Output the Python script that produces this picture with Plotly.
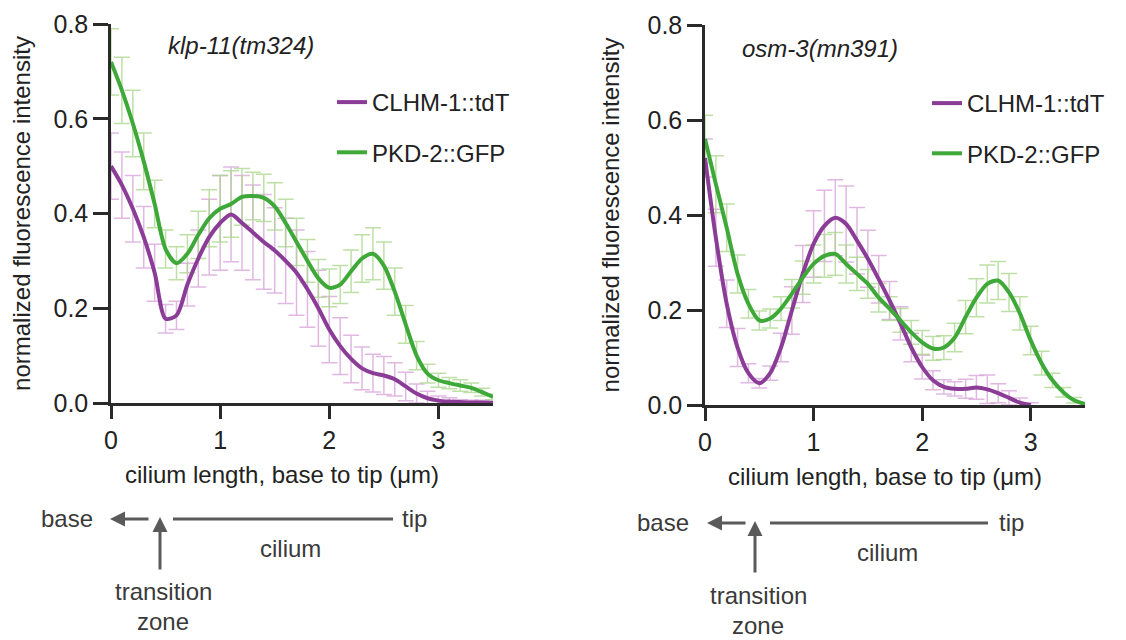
import plotly.graph_objects as go

W, H = 1126, 640

# ---------------- data ----------------
x_pos = [0.0, 0.1, 0.2, 0.3, 0.4, 0.5, 0.6, 0.7, 0.8, 0.9,
         1.0, 1.1, 1.2, 1.3, 1.4, 1.5, 1.6, 1.7, 1.8, 1.9,
         2.0, 2.1, 2.2, 2.3, 2.4, 2.5, 2.6, 2.7, 2.8, 2.9,
         3.0, 3.1, 3.2, 3.3, 3.4, 3.5]

# klp-11(tm324)
klp_pkd2 = [0.72, 0.66, 0.59, 0.51, 0.42, 0.325, 0.295, 0.315, 0.355, 0.39,
            0.41, 0.42, 0.435, 0.437, 0.433, 0.415, 0.38, 0.34, 0.30, 0.263,
            0.243, 0.25, 0.278, 0.305, 0.315, 0.29, 0.235, 0.166, 0.10, 0.062,
            0.048, 0.042, 0.037, 0.032, 0.023, 0.013]
klp_pkd2_err = [0.07, 0.07, 0.07, 0.06, 0.05, 0.04, 0.035, 0.04, 0.05, 0.06,
                0.07, 0.07, 0.06, 0.05, 0.05, 0.05, 0.05, 0.05, 0.045, 0.04,
                0.04, 0.04, 0.045, 0.05, 0.055, 0.05, 0.05, 0.04, 0.03, 0.02,
                0.015, 0.012, 0.012, 0.01, 0.008, 0.006]
klp_clhm1 = [0.50, 0.46, 0.41, 0.35, 0.275, 0.178, 0.185, 0.25, 0.305, 0.35,
             0.38, 0.398, 0.38, 0.36, 0.34, 0.322, 0.30, 0.275, 0.24, 0.20,
             0.155, 0.12, 0.093, 0.073, 0.063, 0.058, 0.05, 0.035, 0.02, 0.01,
             0.005, 0.003, 0.002, 0.001, 0.001, 0.0]
klp_clhm1_err = [0.07, 0.07, 0.07, 0.065, 0.06, 0.03, 0.03, 0.045, 0.06, 0.08,
                 0.1, 0.1, 0.1, 0.1, 0.1, 0.09, 0.09, 0.09, 0.08, 0.08,
                 0.07, 0.06, 0.05, 0.045, 0.04, 0.04, 0.035, 0.03, 0.02, 0.015,
                 0.01, 0.008, 0.005, 0.005, 0.005, 0.005]

# osm-3(mn391)
osm_pkd2 = [0.56, 0.465, 0.373, 0.276, 0.213, 0.178, 0.182, 0.203, 0.234, 0.268,
            0.297, 0.314, 0.318, 0.297, 0.276, 0.255, 0.226, 0.203, 0.178, 0.153,
            0.132, 0.119, 0.121, 0.142, 0.185, 0.226, 0.255, 0.262, 0.237, 0.193,
            0.136, 0.088, 0.052, 0.027, 0.01, 0.002]
osm_pkd2_err = [0.05, 0.06, 0.05, 0.04, 0.03, 0.02, 0.02, 0.025, 0.03, 0.035,
                0.04, 0.045, 0.045, 0.04, 0.035, 0.03, 0.03, 0.025, 0.025, 0.025,
                0.025, 0.025, 0.025, 0.03, 0.035, 0.04, 0.04, 0.04, 0.04, 0.035,
                0.03, 0.025, 0.015, 0.01, 0.006, 0.004]
osm_x_clhm1 = [0.0, 0.1, 0.2, 0.3, 0.4, 0.5, 0.6, 0.7, 0.8, 0.9,
               1.0, 1.1, 1.2, 1.3, 1.4, 1.5, 1.6, 1.7, 1.8, 1.9,
               2.0, 2.1, 2.2, 2.3, 2.4, 2.5, 2.6, 2.7, 2.8, 2.9, 3.0]
osm_clhm1 = [0.52, 0.352, 0.213, 0.121, 0.067, 0.046, 0.067, 0.121, 0.199, 0.276,
             0.339, 0.377, 0.394, 0.381, 0.346, 0.308, 0.265, 0.22, 0.172, 0.121,
             0.08, 0.052, 0.038, 0.034, 0.034, 0.037, 0.033, 0.025, 0.015, 0.005, 0.0]
osm_clhm1_err = [0.04, 0.06, 0.05, 0.04, 0.02, 0.01, 0.015, 0.03, 0.05, 0.06,
                 0.07, 0.075, 0.08, 0.08, 0.07, 0.06, 0.05, 0.04, 0.035, 0.03,
                 0.025, 0.02, 0.015, 0.015, 0.02, 0.025, 0.03, 0.02, 0.015, 0.01, 0.005]

series_names = ["CLHM-1::tdT", "PKD-2::GFP"]
panel_titles = ["klp-11(tm324)", "osm-3(mn391)"]
y_ticks = [0.0, 0.2, 0.4, 0.6, 0.8]
x_ticks = [0, 1, 2, 3]
x_title = "cilium length, base to tip (μm)"
y_title = "normalized fluorescence intensity"

# ---------------- styles ----------------
PURPLE = "#8b3c97"
GREEN = "#3ea838"
PURPLE_ERR = "rgba(214,160,216,0.75)"
GREEN_ERR = "rgba(168,214,138,0.75)"
FONT = "Arial, Liberation Sans, Helvetica, sans-serif"
TXT = "#222222"
AX = "#2a2a2a"
GRAY = "#5a5a5a"

# the page body adds an 8px margin around the figure; compensate
OX, OY = 8, 8


def px(x):
    return (x - OX) / W


def py(y):
    return 1 - (y - OY) / H


fig = go.Figure()


def add_panel(xa, ya, legend, xc, yc, ec, xg, yg, eg):
    # error bars first (underneath the lines)
    fig.add_trace(go.Scatter(x=xc, y=yc, mode="markers", marker=dict(size=1, opacity=0),
                             error_y=dict(type="data", array=ec, color=PURPLE_ERR, thickness=1.5, width=8),
                             xaxis=xa, yaxis=ya, showlegend=False, hoverinfo="skip"))
    fig.add_trace(go.Scatter(x=xg, y=yg, mode="markers", marker=dict(size=1, opacity=0),
                             error_y=dict(type="data", array=eg, color=GREEN_ERR, thickness=1.5, width=8),
                             xaxis=xa, yaxis=ya, showlegend=False, hoverinfo="skip"))
    fig.add_trace(go.Scatter(x=xc, y=yc, mode="lines", name=series_names[0],
                             line=dict(color=PURPLE, width=4, shape="spline", smoothing=0.8),
                             xaxis=xa, yaxis=ya, legend=legend, legendgroup=legend + "a"))
    fig.add_trace(go.Scatter(x=xg, y=yg, mode="lines", name=series_names[1],
                             line=dict(color=GREEN, width=4, shape="spline", smoothing=0.8),
                             xaxis=xa, yaxis=ya, legend=legend, legendgroup=legend + "b"))


add_panel("x", "y", "legend", x_pos, klp_clhm1, klp_clhm1_err, x_pos, klp_pkd2, klp_pkd2_err)
add_panel("x2", "y2", "legend2", osm_x_clhm1, osm_clhm1, osm_clhm1_err, x_pos, osm_pkd2, osm_pkd2_err)

axis_common = dict(showline=True, linewidth=2.5, linecolor=AX, ticks="outside", tickwidth=2.5,
                   tickcolor=AX, showgrid=False, zeroline=False, automargin=False,
                   ticklabeloverflow="allow",
                   tickfont=dict(family=FONT, size=25, color=TXT))

xa_common = dict(axis_common, range=[0, 3.5], tickvals=x_ticks, ticklen=13)
ya_common = dict(axis_common, range=[0, 0.8], tickvals=y_ticks, tickformat=".1f", ticklen=15,
                 title=dict(text=y_title, font=dict(family=FONT, size=24, color=TXT), standoff=22))

legend_common = dict(font=dict(family=FONT, size=24, color=TXT), bgcolor="rgba(0,0,0,0)",
                     traceorder="grouped", tracegroupgap=16, xanchor="left", yanchor="top",
                     itemwidth=30)

fig.update_layout(
    width=W, height=H,
    margin=dict(l=0, r=0, t=0, b=0, autoexpand=False),
    plot_bgcolor="white", paper_bgcolor="white",
    xaxis=dict(xa_common, domain=[px(111), px(493)], anchor="y"),
    yaxis=dict(ya_common, domain=[py(403), py(24)], anchor="x"),
    xaxis2=dict(xa_common, domain=[px(705), px(1085)], anchor="y2"),
    yaxis2=dict(ya_common, domain=[py(405), py(25)], anchor="x2"),
    legend=dict(legend_common, x=px(332), y=py(80)),
    legend2=dict(legend_common, x=px(927), y=py(81)),
)

ann = []


def label(text, cx, cy, size=24, color=TXT):
    ann.append(dict(text=text, x=px(cx), y=py(cy), xref="paper", yref="paper", showarrow=False,
                    xanchor="center", yanchor="middle", font=dict(family=FONT, size=size, color=color)))


# panel titles
label("<i>" + panel_titles[0] + "</i>", 241, 46)
label("<i>" + panel_titles[1] + "</i>", 820, 48)
# x axis titles
label(x_title, 282, 474)
label(x_title, 885, 476)

shapes = []


def schematic(base_cx, y0, arr_head, arr_tail, vx, v_tail, line_x0, line_x1, tip_cx, cil_cx, tz_cx):
    c = "#3a3a3a"
    label("base", base_cx, y0, color=c)
    label("tip", tip_cx, y0, color=c)
    label("cilium", cil_cx, y0 + 30, color=c)
    label("transition", tz_cx, y0 + 73, color=c)
    label("zone", tz_cx, y0 + 103, color=c)
    # left arrow (towards base)
    ann.append(dict(text="", x=px(arr_head), y=py(y0 + 1), xref="paper", yref="paper", showarrow=True,
                    ax=arr_tail - arr_head, ay=0, arrowhead=2, arrowsize=1, arrowwidth=3, arrowcolor=GRAY))
    # vertical arrow (transition zone)
    ann.append(dict(text="", x=px(vx), y=py(y0 - 1), xref="paper", yref="paper", showarrow=True,
                    ax=0, ay=v_tail - y0, arrowhead=2, arrowsize=1, arrowwidth=3, arrowcolor=GRAY))
    # cilium line
    shapes.append(dict(type="line", xref="paper", yref="paper", x0=px(line_x0), x1=px(line_x1),
                       y0=py(y0 + 1), y1=py(y0 + 1), line=dict(color=GRAY, width=3)))


schematic(67, 518, 110, 150, 160, 572, 173, 393, 414, 291, 163)
schematic(663, 522, 707, 747, 755, 575, 770, 988, 1012, 887, 758)

fig.update_layout(annotations=ann, shapes=shapes)

fig.write_html("out.html")
